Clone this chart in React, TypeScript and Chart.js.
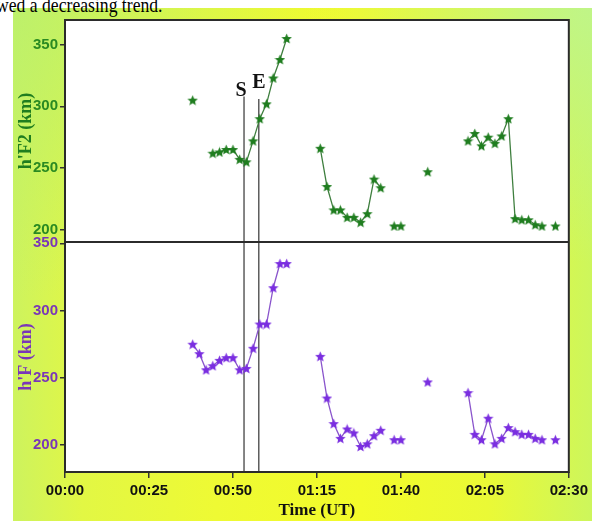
import React, { useEffect, useRef } from "react";
import { Chart, registerables } from "chart.js";
Chart.register(...registerables);

// Time in minutes after 00:00 UT
const times = [
  38, 40, 42, 44, 46, 48, 50, 52, 54, 56, 58, 60, 62, 64, 66, 68, 70, 72, 74,
  76, 78, 80, 82, 84, 86, 88, 90, 92, 94, 96, 98, 100, 102, 104, 106, 108,
  110, 112, 114, 116, 118, 120, 122, 124, 126, 128, 130, 132, 134, 136, 138,
  140, 142, 144, 146,
];
// h'F2 (km)
const hF2 = [
  305, null, null, 262, 263, 265, 265, 257, 255, 272, 290, 302, 323, 338, 355,
  null, null, null, null, 266, 235, 216, 216, 210, 210, 206, 213, 241, 234,
  null, 203, 203, null, null, null, 247, null, null, null, null, null, 272,
  278, 268, 275, 270, 276, 290, 209, 208, 208, 204, 203, null, 203,
];
// h'F (km)
const hF = [
  275, 268, 256, 259, 263, 265, 265, 256, 257, 272, 290, 290, 317, 335, 335,
  null, null, null, null, 266, 235, 216, 205, 212, 209, 199, 201, 207, 211,
  null, 204, 204, null, null, null, 247, null, null, null, null, null, 239,
  208, 204, 220, 201, 205, 213, 210, 208, 208, 205, 204, null, 204,
];

const xTickValues = [0, 25, 50, 75, 100, 125, 150];
const xTickLabels = ["00:00", "00:25", "00:50", "01:15", "01:40", "02:05", "02:30"];
const topTickValues = [200, 250, 300, 350];
const bottomTickValues = [200, 250, 300, 350];

const markerNames = ["S", "E"];
const markerTimes = [53.3, 57.7];
const markerTopValues = [308, 306];
const markerLabelValues = [308, 315];

const GREEN_STAR = "#1f7d1f";
const GREEN_LINE = "#3f7f3f";
const GREEN_TEXT = "#2a8a22";
const PURPLE_STAR = "#7a2ee0";
const PURPLE_LINE = "#8a55cc";
const PURPLE_TEXT = "#7a36b8";

function makeStar(color: string, size: number) {
  const c = document.createElement("canvas");
  c.width = size;
  c.height = size;
  const ctx = c.getContext("2d")!;
  const R = size / 2;
  const r = R * 0.45;
  ctx.beginPath();
  for (let i = 0; i < 10; i++) {
    const a = -Math.PI / 2 + (i * Math.PI) / 5;
    const rad = i % 2 === 0 ? R : r;
    ctx.lineTo(R + rad * Math.cos(a), R * 1.08 + rad * Math.sin(a));
  }
  ctx.closePath();
  ctx.fillStyle = color;
  ctx.fill();
  return c;
}

const tickFont = { family: "'Liberation Sans', Arial, sans-serif", size: 15, weight: "bold" as const };
const titleFont = { family: "'Liberation Serif', 'Times New Roman', serif", size: 18, weight: "bold" as const };

export default function App() {
  const ref = useRef<HTMLCanvasElement>(null);

  useEffect(() => {
    const canvas = ref.current!;
    const starG = makeStar(GREEN_STAR, 11);
    const starP = makeStar(PURPLE_STAR, 11);

    const plugin = {
      id: "frameMarkers",
      beforeDraw(chart: any) {
        const { ctx, chartArea } = chart;
        ctx.save();
        ctx.fillStyle = "#ffffff";
        ctx.fillRect(chartArea.left, chartArea.top, chartArea.right - chartArea.left, chartArea.bottom - chartArea.top);
        ctx.restore();
      },
      beforeDatasetsDraw(chart: any) {
        const { ctx, chartArea, scales } = chart;
        ctx.save();
        ctx.strokeStyle = "#444";
        ctx.lineWidth = 1.3;
        ctx.fillStyle = "#111";
        ctx.font = "bold 20px 'Liberation Serif', serif";
        ctx.textAlign = "center";
        ctx.textBaseline = "alphabetic";
        markerTimes.forEach((t, i) => {
          const x = scales.x.getPixelForValue(t);
          const yTop = scales.yTop.getPixelForValue(markerTopValues[i]);
          ctx.beginPath();
          ctx.moveTo(x, yTop);
          ctx.lineTo(x, chartArea.bottom);
          ctx.stroke();
          const ly = scales.yTop.getPixelForValue(markerLabelValues[i]);
          ctx.fillText(markerNames[i], x - (i === 0 ? 3 : 0), ly);
        });
        ctx.restore();
      },
      afterDatasetsDraw(chart: any) {
        const { ctx, chartArea, scales } = chart;
        ctx.save();
        ctx.strokeStyle = "#2b2b2b";
        ctx.lineWidth = 2;
        ctx.strokeRect(chartArea.left, chartArea.top, chartArea.right - chartArea.left, chartArea.bottom - chartArea.top);
        const sepY = scales.yTop.bottom;
        ctx.beginPath();
        ctx.moveTo(chartArea.left, sepY);
        ctx.lineTo(chartArea.right, sepY);
        ctx.stroke();
        ctx.restore();
      },
    };

    const chart = new Chart(canvas, {
      type: "line",
      data: {
        datasets: [
          {
            label: "h'F2",
            data: times.map((t, i) => ({ x: t, y: hF2[i] as any })),
            xAxisID: "x",
            yAxisID: "yTop",
            borderColor: GREEN_LINE,
            backgroundColor: GREEN_STAR,
            borderWidth: 1.3,
            pointStyle: starG as any,
            pointRadius: 5,
            spanGaps: false,
          },
          {
            label: "h'F",
            data: times.map((t, i) => ({ x: t, y: hF[i] as any })),
            xAxisID: "x",
            yAxisID: "yBot",
            borderColor: PURPLE_LINE,
            backgroundColor: PURPLE_STAR,
            borderWidth: 1.3,
            pointStyle: starP as any,
            pointRadius: 5,
            spanGaps: false,
          },
        ],
      },
      options: {
        responsive: false,
        animation: false,
        layout: { padding: { top: 20, right: 23, left: 0, bottom: 0 } },
        plugins: { legend: { display: false }, tooltip: { enabled: false } },
        scales: {
          x: {
            type: "linear",
            min: 0,
            max: 150,
            afterBuildTicks: (s: any) => {
              s.ticks = xTickValues.map((v) => ({ value: v }));
            },
            afterFit: (s: any) => {
              s.height = 49;
            },
            ticks: {
              autoSkip: false,
              maxRotation: 0,
              padding: 4,
              color: "#111",
              font: tickFont,
              callback: (v: any) => xTickLabels[xTickValues.indexOf(Number(v))] ?? "",
            },
            grid: { drawOnChartArea: false, drawTicks: true, tickLength: 6, color: "#333", lineWidth: 1.5 },
            border: { display: false },
            title: { display: true, text: "Time (UT)", color: "#111", font: { ...titleFont, size: 17 }, padding: { top: 0, bottom: 0 } },
          },
          yBot: {
            type: "linear",
            position: "left",
            stack: "panels",
            stackWeight: 230,
            min: 180,
            max: 351,
            afterBuildTicks: (s: any) => {
              s.ticks = bottomTickValues.map((v) => ({ value: v }));
            },
            afterFit: (s: any) => {
              s.width = 65;
            },
            ticks: { color: PURPLE_TEXT, font: tickFont, padding: 2 },
            grid: { drawOnChartArea: false, drawTicks: true, tickLength: 5, color: "#333", lineWidth: 1.5 },
            border: { display: false },
            title: { display: true, text: "h'F (km)", color: PURPLE_TEXT, font: titleFont, padding: { top: 16, bottom: 0 } },
          },
          yTop: {
            type: "linear",
            position: "left",
            stack: "panels",
            stackWeight: 222,
            min: 190,
            max: 370,
            afterBuildTicks: (s: any) => {
              s.ticks = topTickValues.map((v) => ({ value: v }));
            },
            afterFit: (s: any) => {
              s.width = 65;
            },
            ticks: { color: GREEN_TEXT, font: tickFont, padding: 2 },
            grid: { drawOnChartArea: false, drawTicks: true, tickLength: 5, color: "#333", lineWidth: 1.5 },
            border: { display: false },
            title: { display: true, text: "h'F2 (km)", color: GREEN_STAR, font: titleFont, padding: { top: 16, bottom: 0 } },
          },
        },
      } as any,
      plugins: [plugin],
    });
    return () => chart.destroy();
  }, []);

  return (
    <div style={{ position: "fixed", left: 0, top: 0, width: 592, height: 521, overflow: "hidden", background: "#fff" }}>
      <div
        style={{
          position: "absolute",
          left: 13,
          top: 8,
          width: 579,
          height: 513,
          background:
            "radial-gradient(ellipse at 100% 0%, rgba(190,245,140,0.9) 0%, rgba(190,245,140,0) 35%), radial-gradient(ellipse at 0% 0%, rgba(185,240,110,0.8) 0%, rgba(185,240,110,0) 40%), linear-gradient(90deg, #cdf35e 0%, #e2f744 12%, #eefa34 35%, #f3fb2a 60%, #eaf936 82%, #cdf65c 100%)",
        }}
      />
      <div
        style={{
          position: "absolute",
          left: -4,
          top: -6,
          fontFamily: "'Liberation Serif', 'Times New Roman', serif",
          fontSize: 21,
          lineHeight: "22px",
          whiteSpace: "nowrap",
          color: "#000",
          transform: "scaleX(0.84)",
          transformOrigin: "left top",
        }}
      >
        wed a decreasing trend.
      </div>
      <canvas ref={ref} width={592} height={521} style={{ position: "absolute", left: 0, top: 0, width: 592, height: 521 }} />
    </div>
  );
}
